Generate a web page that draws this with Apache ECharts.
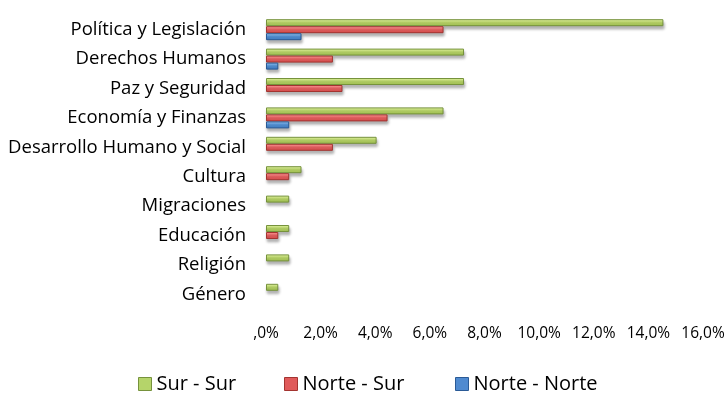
<!DOCTYPE html>
<html>
<head>
<meta charset="utf-8">
<script src="https://cdn.jsdelivr.net/npm/echarts@6/dist/echarts.min.js"></script>
<style>
  html, body { margin: 0; padding: 0; background: #fff; }
  #chart { width: 728px; height: 401px; }
</style>
</head>
<body>
<div id="chart"></div>
<script>
const categories = ['Política y Legislación', 'Derechos Humanos', 'Paz y Seguridad', 'Economía y Finanzas',
    'Desarrollo Humano y Social', 'Cultura', 'Migraciones', 'Educación', 'Religión', 'Género']
const surSur = [14.55, 7.25, 7.25, 6.5, 4.05, 1.3, 0.85, 0.85, 0.85, 0.45]
const norteSur = [6.5, 2.45, 2.8, 4.45, 2.45, 0.85, 0, 0.45, 0, 0]
const norteNorte = [1.3, 0.45, 0, 0.85, 0, 0, 0, 0, 0, 0]
const xTicks = [0, 2, 4, 6, 8, 10, 12, 14, 16]

function grad(top, mid, bottom) {
    return new echarts.graphic.LinearGradient(0, 0, 0, 1, [
        { offset: 0, color: top },
        { offset: 0.45, color: mid },
        { offset: 1, color: bottom }
    ])
}

function barSeries(name, data, fill, border) {
    return {
        name: name,
        type: 'bar',
        // empty values get no bar at all
        data: data.map(v => v === 0 ? '-' : v),
        barWidth: 7,
        barGap: '0%',
        itemStyle: {
            color: fill,
            borderColor: border,
            borderWidth: 1,
            shadowColor: 'rgba(0,0,0,0.3)',
            shadowBlur: 3,
            shadowOffsetY: 3,
            shadowOffsetX: 1
        }
    }
}

// excel spreads the legend entries wider than their text, so one legend per entry
const legendAt = (name, left, c, b) => ({
    bottom: 2,
    left: left,
    icon: 'rect',
    itemWidth: 13,
    itemHeight: 13,
    textStyle: { fontSize: 20, color: '#000', fontFamily: 'Open Sans' },
    data: [{
        name: name,
        itemStyle: { color: c, borderColor: b, borderWidth: 1, shadowBlur: 0, shadowOffsetX: 0, shadowOffsetY: 0 }
    }]
})

const chart = echarts.init(document.getElementById('chart'))
chart.setOption({
    animation: false,
    textStyle: { fontFamily: 'Open Sans' },
    grid: { left: 266, right: 25, top: 15, bottom: 92 },
    legend: [
        legendAt('Sur - Sur', 133, '#b5d46a', '#76923c'),
        legendAt('Norte - Sur', 279, '#e05a5a', '#a33430'),
        legendAt('Norte - Norte', 450, '#4f8ad0', '#2a5a96')
    ],
    xAxis: {
        type: 'value',
        min: xTicks[0],
        max: xTicks[xTicks.length - 1],
        interval: 2,
        splitLine: { show: false },
        axisLine: { show: false },
        axisTick: { show: false },
        axisLabel: {
            fontSize: 15.5,
            color: '#000',
            margin: 17,
            hideOverlap: false,
            formatter: v => v === 0 ? ',0%' : v.toFixed(1).replace('.', ',') + '%'
        }
    },
    yAxis: {
        type: 'category',
        inverse: true,
        data: categories,
        axisLine: { show: false },
        axisTick: { show: false },
        axisLabel: { fontSize: 18.5, color: '#000', margin: 20 }
    },
    series: [
        barSeries('Sur - Sur', surSur, grad('#e6f7a8', '#c3e070', '#9dbd4e'), '#76923c'),
        barSeries('Norte - Sur', norteSur, grad('#ffa0a0', '#f26868', '#d24848'), '#a33430'),
        barSeries('Norte - Norte', norteNorte, grad('#9fc8f0', '#5a9ae0', '#3b78c0'), '#2a5a96')
    ]
})
</script>
</body>
</html>
